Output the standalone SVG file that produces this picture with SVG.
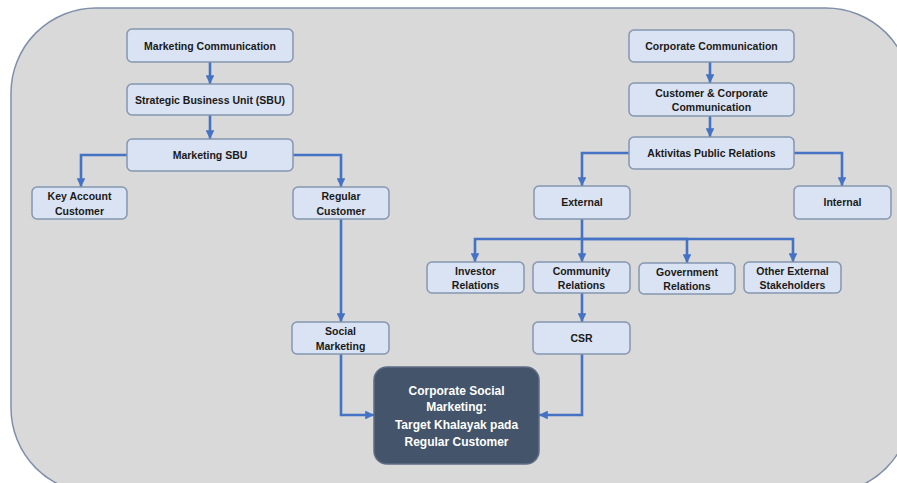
<svg xmlns="http://www.w3.org/2000/svg" width="897" height="483" viewBox="0 0 897 483">
<defs>
<marker id="ah" viewBox="0 0 10 10" refX="10" refY="5" markerWidth="3.4" markerHeight="3.4" orient="auto" markerUnits="strokeWidth">
<path d="M0,0 L10,5 L0,10 z" fill="#4472c4"/>
</marker>
<style>
.box{fill:#dae3f3;stroke:#8496b0;stroke-width:1.5}
.dark{fill:#44546a;stroke:#5d6d84;stroke-width:1.5}
.t{font-family:"Liberation Sans",Arial,sans-serif;font-weight:bold;font-size:10.5px;fill:#1a1a1a;text-anchor:middle}
.tw{font-family:"Liberation Sans",Arial,sans-serif;font-weight:bold;font-size:12px;fill:#ffffff;text-anchor:middle}
.c{fill:none;stroke:#4472c4;stroke-width:2.6;marker-end:url(#ah)}
</style>
</defs>
<rect width="897" height="483" fill="#ffffff"/>
<rect x="11" y="8" width="900" height="485" rx="85" ry="85" fill="#d9d9d9" stroke="#7f8fa9" stroke-width="1.5"/>
<g id="connectors">
<path class="c" d="M210,62 V84"/>
<path class="c" d="M210,115 V139"/>
<path class="c" d="M127,155 H81 V187"/>
<path class="c" d="M293,155 H341 V187"/>
<path class="c" d="M341,219 V322"/>
<path class="c" d="M341,354 V415 H374"/>
<path class="c" d="M710,62 V83"/>
<path class="c" d="M710,116 V137"/>
<path class="c" d="M629,153 H582 V186"/>
<path class="c" d="M794,153 H842 V186"/>
<path class="c" d="M582,219 V262"/>
<path class="c" d="M582,239 H475 V262"/>
<path class="c" d="M582,239 H687 V263"/>
<path class="c" d="M582,239 H793 V262"/>
<path class="c" d="M582,293 V322"/>
<path class="c" d="M582,354 V415 H539"/>
</g>
<g id="marketing-communication"><rect class="box" x="127" y="29" width="166" height="33" rx="5"/><text class="t" x="210" y="49.5">Marketing Communication</text></g>
<g id="sbu"><rect class="box" x="127" y="84" width="166" height="31" rx="5"/><text class="t" x="210" y="103.5">Strategic Business Unit (SBU)</text></g>
<g id="marketing-sbu"><rect class="box" x="127" y="139" width="166" height="32" rx="5"/><text class="t" x="210" y="158.5">Marketing SBU</text></g>
<g id="key-account"><rect class="box" x="32" y="187" width="95" height="32" rx="5"/><text class="t" x="79.5" y="200">Key Account</text><text class="t" x="79.5" y="214.5">Customer</text></g>
<g id="regular-customer"><rect class="box" x="293" y="187" width="96" height="32" rx="5"/><text class="t" x="341" y="200">Regular</text><text class="t" x="341" y="214.5">Customer</text></g>
<g id="social-marketing"><rect class="box" x="292" y="322" width="97" height="32" rx="5"/><text class="t" x="340.5" y="335">Social</text><text class="t" x="340.5" y="349.5">Marketing</text></g>
<g id="corporate-communication"><rect class="box" x="629" y="30" width="165" height="32" rx="5"/><text class="t" x="711.5" y="50">Corporate Communication</text></g>
<g id="customer-corporate"><rect class="box" x="629" y="83" width="165" height="33" rx="5"/><text class="t" x="711.5" y="96.5">Customer &amp; Corporate</text><text class="t" x="711.5" y="111">Communication</text></g>
<g id="aktivitas-pr"><rect class="box" x="629" y="137" width="165" height="32" rx="5"/><text class="t" x="711.5" y="157">Aktivitas Public Relations</text></g>
<g id="external"><rect class="box" x="534" y="186" width="96" height="33" rx="5"/><text class="t" x="582" y="206">External</text></g>
<g id="internal"><rect class="box" x="794" y="186" width="97" height="33" rx="5"/><text class="t" x="842.5" y="206">Internal</text></g>
<g id="investor-relations"><rect class="box" x="427" y="262" width="97" height="31" rx="5"/><text class="t" x="475.5" y="275">Investor</text><text class="t" x="475.5" y="289">Relations</text></g>
<g id="community-relations"><rect class="box" x="533" y="262" width="97" height="31" rx="5"/><text class="t" x="581.5" y="275">Community</text><text class="t" x="581.5" y="289">Relations</text></g>
<g id="government-relations"><rect class="box" x="639" y="263" width="96" height="31" rx="5"/><text class="t" x="687" y="276">Government</text><text class="t" x="687" y="290">Relations</text></g>
<g id="other-external"><rect class="box" x="744" y="262" width="97" height="31" rx="5"/><text class="t" x="792.5" y="275">Other External</text><text class="t" x="792.5" y="289">Stakeholders</text></g>
<g id="csr"><rect class="box" x="533" y="322" width="97" height="32" rx="5"/><text class="t" x="581.5" y="342">CSR</text></g>
<g id="corporate-social-marketing"><rect class="dark" x="374" y="367" width="165" height="97" rx="13"/><text class="tw" x="456.5" y="394.5">Corporate Social</text><text class="tw" x="456.5" y="411">Marketing:</text><text class="tw" x="456.5" y="429">Target Khalayak pada</text><text class="tw" x="456.5" y="446">Regular Customer</text></g>
</svg>
